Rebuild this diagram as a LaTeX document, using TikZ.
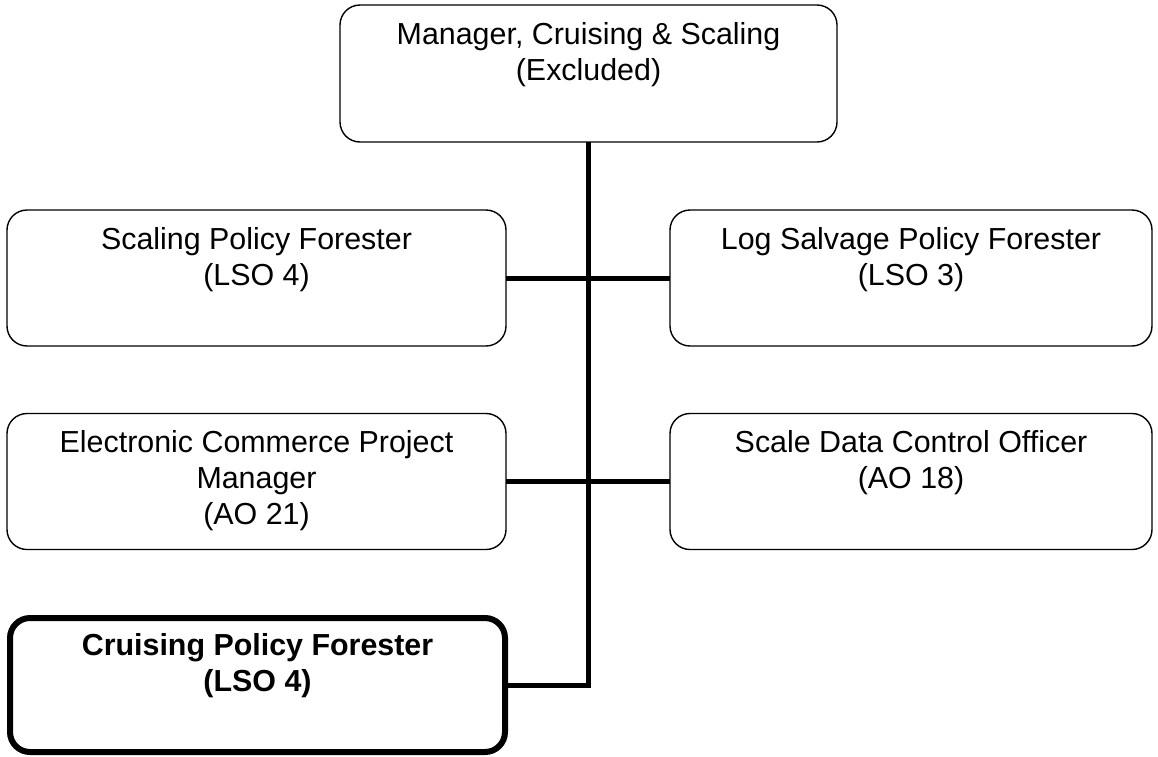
\documentclass[tikz,border=0pt]{standalone}
\usepackage{fontspec}
\setmainfont{Liberation Sans}
\newcommand\boxtext[4]{\vbox to #2{\hsize=#1\centering\rule{0pt}{#3}#4\par\vfill}}
\tikzset{
  orgbox/.style={draw=black, rounded corners=20pt, line width=1.4pt, inner sep=0pt, outer sep=0pt,
    font=\fontsize{30.4}{36}\selectfont},
  heavybox/.style={orgbox, line width=6pt},
  conn/.style={draw=black, line width=5pt}
}
\begin{document}
\begin{tikzpicture}[x=1pt,y=-1pt]
\useasboundingbox[fill=white] (0,0) rectangle (1158,756);
\node[orgbox, minimum width=497pt, minimum height=137pt] (top) at (588.5,73.5)
  {\boxtext{480pt}{137pt}{39pt}{Manager, Cruising \& Scaling\\(Excluded)}};
\node[orgbox, minimum width=499pt, minimum height=136pt] (scaling) at (256.5,278)
  {\boxtext{480pt}{136pt}{39pt}{Scaling Policy Forester\\(LSO 4)}};
\node[orgbox, minimum width=482pt, minimum height=136pt] (salvage) at (911,278)
  {\boxtext{470pt}{136pt}{39pt}{Log Salvage Policy Forester\\(LSO 3)}};
\node[orgbox, minimum width=499pt, minimum height=136pt] (ecom) at (256.5,481.5)
  {\boxtext{480pt}{136pt}{39pt}{Electronic Commerce Project\\Manager\\(AO 21)}};
\node[orgbox, minimum width=482pt, minimum height=136pt] (scaledata) at (911,481.5)
  {\boxtext{470pt}{136pt}{39pt}{Scale Data Control Officer\\(AO 18)}};
\node[heavybox, minimum width=495pt, minimum height=134pt] (cruising) at (257.5,685)
  {\boxtext{480pt}{134pt}{37pt}{\bfseries Cruising Policy Forester\\(LSO 4)}};
\draw[conn] (top.south) -- (top.south |- cruising.east) -- (cruising.east);
\draw[conn] (scaling.east) -- (salvage.west);
\draw[conn] (ecom.east) -- (scaledata.west);
\end{tikzpicture}
\end{document}
